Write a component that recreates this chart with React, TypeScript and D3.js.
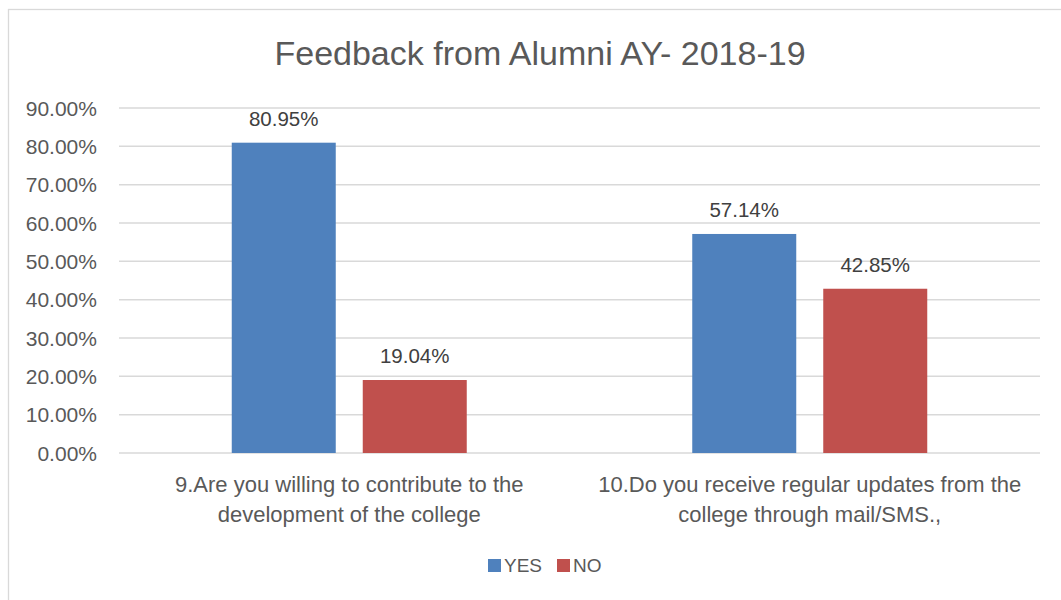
import React from "react";
import * as d3 from "d3";

const categories = [
  ["9.Are you willing to contribute to the", "development of the college"],
  ["10.Do you receive regular updates from the", "college through mail/SMS.,"],
];
const seriesNames = ["YES", "NO"];
const yesValues = [80.95, 57.14];
const noValues = [19.04, 42.85];
const yTicks = [0, 10, 20, 30, 40, 50, 60, 70, 80, 90];
const colors = ["#4F81BD", "#C0504D"];

const FONT = "'Liberation Sans', Arial, sans-serif";
const TXT = "#595959";

export default function App() {
  const W = 1061, H = 600;
  const left = 119, right = 1040, top = 108, bottom = 453;
  const x0 = d3.scaleBand<number>().domain([0, 1]).range([left, right]).paddingInner(0).paddingOuter(0);
  const y = d3.scaleLinear().domain([0, 90]).range([bottom, top]);
  const barW = 104, gap = 27;
  const series = [yesValues, noValues];

  return (
    <svg width={W} height={H} style={{ position: "absolute", left: 0, top: 0, background: "#fff" }} fontFamily={FONT}>
      <rect x={8.5} y={9.5} width={1060} height={600} fill="#fff" stroke="#d9d9d9" strokeWidth={1.3} />
      <text x={540} y={65} textAnchor="middle" fontSize={34} fill={TXT}>Feedback from Alumni AY- 2018-19</text>
      {yTicks.map((t) => (
        <g key={t}>
          <line x1={left} x2={right} y1={y(t)} y2={y(t)} stroke="#d9d9d9" strokeWidth={1.5} />
          <text x={97} y={y(t)} dy="0.36em" textAnchor="end" fontSize={21} fill={TXT}>{t.toFixed(2)}%</text>
        </g>
      ))}
      {categories.map((cat, i) => {
        const cx = (x0(i) as number) + x0.bandwidth() / 2;
        return (
          <g key={i}>
            {series.map((vals, s) => {
              const bx = cx - gap / 2 - barW + s * (barW + gap);
              const v = vals[i];
              return (
                <g key={s}>
                  <rect x={bx} y={y(v)} width={barW} height={bottom - y(v)} fill={colors[s]} />
                  <text x={bx + barW / 2} y={y(v) - 17} textAnchor="middle" fontSize={20.5} fill="#404040">{v.toFixed(2)}%</text>
                </g>
              );
            })}
            {cat.map((line, li) => (
              <text key={li} x={cx} y={492 + li * 30} textAnchor="middle" fontSize={22} fill={TXT}>{line}</text>
            ))}
          </g>
        );
      })}
      {seriesNames.map((n, s) => {
        const lx = [488, 557][s];
        return (
          <g key={n}>
            <rect x={lx} y={559} width={13} height={13} fill={colors[s]} />
            <text x={lx + 16} y={572} fontSize={19} fill={TXT}>{n}</text>
          </g>
        );
      })}
    </svg>
  );
}
